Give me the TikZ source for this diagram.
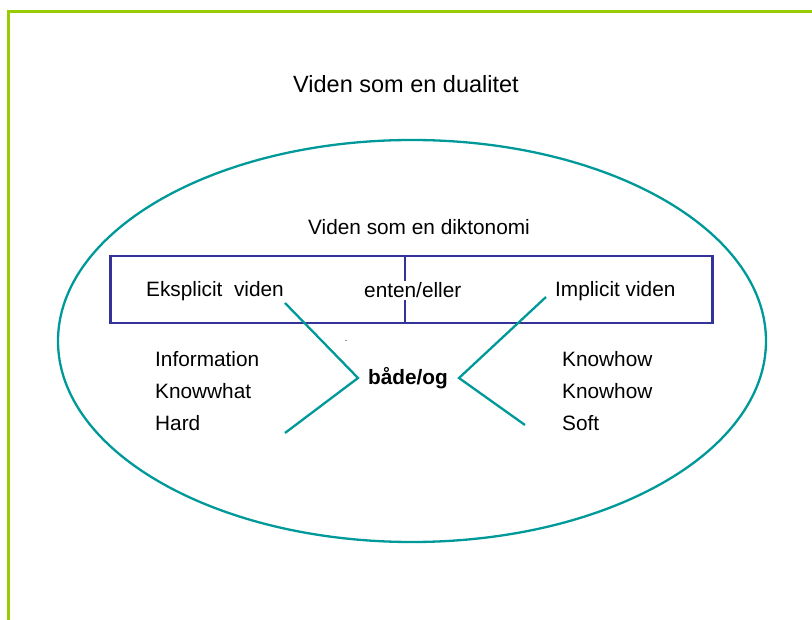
\documentclass[tikz,border=0pt]{standalone}
\usepackage{fontspec}
\usetikzlibrary{shapes.geometric}
\setmainfont{Liberation Sans}
\definecolor{framegreen}{RGB}{153,204,0}
\definecolor{boxblue}{RGB}{51,51,153}
\definecolor{tealline}{RGB}{0,153,153}
\begin{document}
\begin{tikzpicture}[x=1pt,y=-1pt,
  txt/.style={inner sep=0pt,font=\fontsize{20.8}{24}\selectfont},
  title/.style={inner sep=0pt,font=\fontsize{23.5}{28}\selectfont},
  frame/.style={draw=framegreen,line width=2.4pt},
  dichotomy/.style={draw=boxblue,line width=2.3pt},
  duality/.style={draw=tealline,line width=2.3pt,line join=miter}]
\useasboundingbox (0,0) rectangle (812,620);
\fill[white] (0,0) rectangle (812,620);

% slide frame
\coordinate (fl) at (8.5,620);
\coordinate (ftl) at (8.5,11.5);
\coordinate (fr) at (812,11.5);
\draw[frame] (fl) -- (ftl) -- (fr);

% outer duality ellipse
\node[duality,ellipse,inner sep=0pt,minimum width=708pt,minimum height=402pt] (ell) at (412,341) {};

\node[title,anchor=base] (dual) at (406,93) {Viden som en dualitet};
\node[txt,anchor=base west] (dik) at (308,235) {Viden som en diktonomi};

% dichotomy box with divider
\coordinate (bt) at (405,256);
\coordinate (bb) at (405,323);
\draw[dichotomy] (110.5,256) rectangle (712.5,323);
\draw[dichotomy] (bt) -- (bb);

\node[txt,anchor=base west] (eks) at (146,297) {Eksplicit\ \ viden};
\node[txt,anchor=base west,fill=white,inner xsep=1pt,inner ysep=2pt] (ee) at (363,298) {enten/eller};
\node[txt,anchor=base west] (imp) at (555,297) {Implicit viden};

\node[txt,anchor=base west] (inf) at (155,367) {Information};
\node[txt,anchor=base west] (kw) at (155,399) {Knowwhat};
\node[txt,anchor=base west] (hard) at (155,431) {Hard};
\node[txt,anchor=base west] (kh1) at (562,367) {Knowhow};
\node[txt,anchor=base west] (kh2) at (562,399) {Knowhow};
\node[txt,anchor=base west] (soft) at (562,431) {Soft};

\node[txt,anchor=base,font=\fontsize{20.8}{24}\selectfont\bfseries] (bo) at (408,385) {både/og};
\node[inner sep=0pt,font=\fontsize{9}{10}\selectfont] (dot) at (346,341) {.};

% both/and chevrons
\coordinate (lu) at (285,303);
\coordinate (lv) at (358,378);
\coordinate (ld) at (285,433);
\coordinate (ru) at (546,297);
\coordinate (rv) at (459,378);
\coordinate (rd) at (525,425);
\draw[duality] (lu) -- (lv) -- (ld);
\draw[duality] (ru) -- (rv) -- (rd);
\end{tikzpicture}
\end{document}
